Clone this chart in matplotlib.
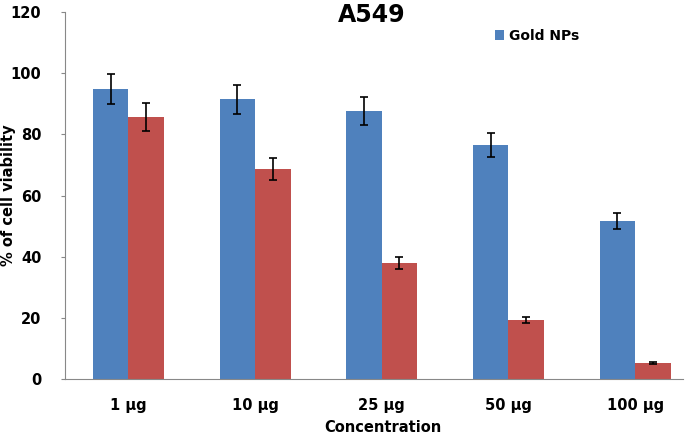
import numpy as np
import matplotlib.pyplot as plt

# datos
categorias = ['1 µg', '10 µg', '25 µg', '50 µg', '100 µg']
gold = [94.8, 91.5, 87.6, 76.5, 51.6]
gold_err = [4.9, 4.7, 4.5, 3.9, 2.6]
otro = [85.6, 68.6, 37.9, 19.3, 5.2]
otro_err = [4.5, 3.6, 2.0, 1.0, 0.3]

plt.rcParams['font.family'] = ['DejaVu Sans']
plt.rcParams['font.weight'] = 'bold'

fig = plt.figure(figsize=(6.89, 4.34), dpi=100)
ax = fig.add_axes([65/689, 1 - 379/434, (683 - 65)/689, 367/434])

x = np.arange(len(categorias))
w = 0.28
ax.bar(x - w/2, gold, w, color='#4f81bd', yerr=gold_err, capsize=3,
       error_kw=dict(elinewidth=1.2, capthick=1.2), label='Gold NPs')
ax.bar(x + w/2, otro, w, color='#c0504d', yerr=otro_err, capsize=3,
       error_kw=dict(elinewidth=1.2, capthick=1.2))

ax.set_xlim(-0.5, (683 - 127)/127)
ax.set_ylim(0, 120)
ax.set_yticks(range(0, 121, 20))
ax.set_xticks(x)
ax.set_xticklabels(categorias)
ax.tick_params(axis='x', length=0, pad=14, labelsize=10.5)
ax.tick_params(axis='y', length=3, color='#888888', pad=14, labelsize=10.5)

for s in ['top', 'right']:
    ax.spines[s].set_visible(False)
for s in ['left', 'bottom']:
    ax.spines[s].set_color('#888888')

# titulo y etiquetas colocados a mano
fig.text(372/689, 1 - 15/434, 'A549', fontsize=17, fontweight='bold',
         ha='center', va='center')
fig.text(383/689, 1 - 428/434, 'Concentration', fontsize=10.5,
         fontweight='bold', ha='center', va='center')
fig.text(9/689, 1 - 195/434, '% of cell viability', fontsize=10.5,
         fontweight='bold', ha='center', va='center', rotation=90)

ax.legend(loc='center left', bbox_to_anchor=(0.675, 0.935), frameon=False,
          handlelength=0.7, handleheight=0.8, handletextpad=0.3,
          prop={'weight': 'bold', 'size': 10})

fig.savefig('out.png', dpi=100)
